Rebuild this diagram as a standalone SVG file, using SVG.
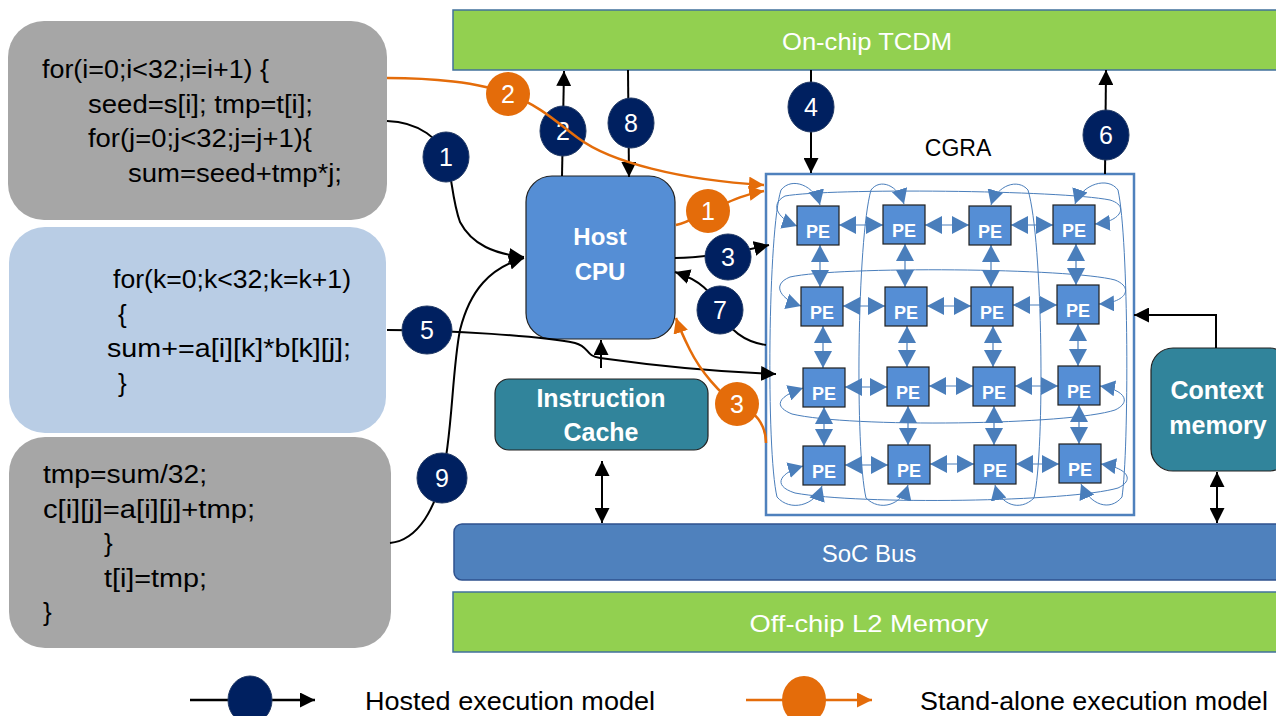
<svg xmlns="http://www.w3.org/2000/svg" width="1276" height="716" viewBox="0 0 1276 716">
<defs>
<style>
.code{font-family:"Liberation Sans",Arial,sans-serif;font-size:26px;fill:#000}
.wt{font-family:"Liberation Sans",Arial,sans-serif;font-size:24px;fill:#fff;text-anchor:middle}
.bt{font-family:"Liberation Sans",Arial,sans-serif;font-weight:bold;fill:#fff;text-anchor:middle}
.pe rect{fill:#558ED5;stroke:#1e1e1e;stroke-width:1.2}
.pe text{font-family:"Liberation Sans",Arial,sans-serif;font-weight:bold;font-size:18px;fill:#fff;text-anchor:middle}
.blk{fill:none;stroke:#000;stroke-width:2}
.org{fill:none;stroke:#E46C0A;stroke-width:2.5}
.lnk{fill:none;stroke:#4A7EBB;stroke-width:1.2;marker-start:url(#ap);marker-end:url(#ap)}
.wrap{fill:none;stroke:#4A7EBB;stroke-width:1;marker-start:url(#aw);marker-end:url(#aw)}
.nv{fill:#002060;stroke:#203864;stroke-width:1}
.or{fill:#E46C0A}
.num{font-family:"Liberation Sans",Arial,sans-serif;font-size:25px;fill:#fff;text-anchor:middle}
.leg{font-family:"Liberation Sans",Arial,sans-serif;font-size:26px;fill:#000}
</style>
<marker id="ab" viewBox="0 0 10 10" refX="10" refY="5" markerWidth="15" markerHeight="15" markerUnits="userSpaceOnUse" orient="auto-start-reverse"><path d="M0,0 L10,5 L0,10 z" fill="#000"/></marker>
<marker id="ao" viewBox="0 0 10 10" refX="10" refY="5" markerWidth="15" markerHeight="15" markerUnits="userSpaceOnUse" orient="auto-start-reverse"><path d="M0,0 L10,5 L0,10 z" fill="#E46C0A"/></marker>
<marker id="ap" viewBox="0 0 17 18" refX="17" refY="9" markerWidth="17" markerHeight="18" markerUnits="userSpaceOnUse" orient="auto-start-reverse"><path d="M0,0 L17,9 L0,18 z" fill="#4A7EBB"/></marker>
<marker id="aw" viewBox="0 0 15 16" refX="15" refY="8" markerWidth="15" markerHeight="16" markerUnits="userSpaceOnUse" orient="auto-start-reverse"><path d="M0,0 L15,8 L0,16 z" fill="#4A7EBB"/></marker>
</defs>
<rect width="1276" height="716" fill="#fff"/>

<g id="code-outer-start">
<rect x="8" y="21" width="379" height="199" rx="36" fill="#A6A6A6"/>
<text class="code" x="42" y="78" textLength="227" lengthAdjust="spacingAndGlyphs">for(i=0;i&lt;32;i=i+1) {</text>
<text class="code" x="88" y="113" textLength="225" lengthAdjust="spacingAndGlyphs">seed=s[i]; tmp=t[i];</text>
<text class="code" x="88" y="147" textLength="224" lengthAdjust="spacingAndGlyphs">for(j=0;j&lt;32;j=j+1){</text>
<text class="code" x="128" y="182" textLength="214" lengthAdjust="spacingAndGlyphs">sum=seed+tmp*j;</text>
</g>
<g id="code-inner">
<rect x="9" y="227" width="377" height="206" rx="36" fill="#B9CDE5"/>
<text class="code" x="113" y="288" textLength="238" lengthAdjust="spacingAndGlyphs">for(k=0;k&lt;32;k=k+1)</text>
<text class="code" x="118" y="323">{</text>
<text class="code" x="107" y="357" textLength="244" lengthAdjust="spacingAndGlyphs">sum+=a[i][k]*b[k][j];</text>
<text class="code" x="118" y="392">}</text>
</g>
<g id="code-outer-end">
<rect x="9" y="437" width="382" height="211" rx="36" fill="#A6A6A6"/>
<text class="code" x="43" y="483" textLength="164" lengthAdjust="spacingAndGlyphs">tmp=sum/32;</text>
<text class="code" x="43" y="518" textLength="212" lengthAdjust="spacingAndGlyphs">c[i][j]=a[i][j]+tmp;</text>
<text class="code" x="104" y="552">}</text>
<text class="code" x="104" y="587" textLength="103" lengthAdjust="spacingAndGlyphs">t[i]=tmp;</text>
<text class="code" x="43" y="621">}</text>
</g>

<g id="tcdm">
<rect x="453" y="10" width="830" height="60" fill="#92D050" stroke="#41719C" stroke-width="1.5"/>
<text class="wt" x="867" y="50" textLength="170" lengthAdjust="spacingAndGlyphs">On-chip TCDM</text>
</g>
<g id="soc-bus">
<rect x="454" y="524" width="830" height="56" rx="8" fill="#4F81BD" stroke="#2F528F" stroke-width="1.5"/>
<text class="wt" x="869" y="562">SoC Bus</text>
</g>
<g id="l2-memory">
<rect x="453" y="592" width="830" height="60" fill="#92D050" stroke="#41719C" stroke-width="1.5"/>
<text class="wt" x="869" y="632" textLength="239" lengthAdjust="spacingAndGlyphs">Off-chip L2 Memory</text>
</g>
<g id="host-cpu">
<rect x="526" y="176" width="149" height="163" rx="26" fill="#558ED5" stroke="#222" stroke-width="1.2"/>
<text class="bt" x="600" y="245" font-size="24">Host</text>
<text class="bt" x="600" y="280" font-size="24">CPU</text>
</g>
<g id="instruction-cache">
<rect x="495" y="379" width="213" height="71" rx="14" fill="#31849B" stroke="#222" stroke-width="1.2"/>
<text class="bt" x="601" y="407" font-size="25">Instruction</text>
<text class="bt" x="601" y="441" font-size="25">Cache</text>
</g>
<g id="context-memory">
<rect x="1151" y="348" width="140" height="123" rx="22" fill="#31849B" stroke="#222" stroke-width="1.2"/>
<text class="bt" x="1217" y="399" font-size="25">Context</text>
<text class="bt" x="1218" y="434" font-size="25">memory</text>
</g>

<g id="cgra">
<rect x="766" y="174" width="368" height="341" fill="#fff" stroke="#4F81BD" stroke-width="2.5"/>
<text x="958" y="156" font-family="Liberation Sans, Arial, sans-serif" font-size="23" text-anchor="middle" fill="#000">CGRA</text>
</g>

<g id="pe-links">
<path class="wrap" d="M820,205 C815,186 792,176 781,190 C768,230 766,450 777,497 C790,512 815,506 822,486"/>
<path class="wrap" d="M904,204 C898,185 880,178 871,190 C857,240 855,450 866,498 C880,512 902,505 908,485"/>
<path class="wrap" d="M991,205 C997,185 1018,178 1028,190 C1043,240 1045,450 1034,498 C1020,512 1000,505 995,485"/>
<path class="wrap" d="M1075,204 C1082,184 1108,176 1118,190 C1129,240 1129,450 1122,497 C1110,512 1090,505 1081,484"/>
<path class="wrap" d="M797,226 C780,220 768,205 785,196 C830,188 1060,190 1110,200 C1130,206 1120,222 1095,224"/>
<path class="wrap" d="M801,306 C782,300 770,285 790,277 C840,266 1070,268 1115,280 C1135,288 1125,303 1099,304"/>
<path class="wrap" d="M803,388 C782,395 770,405 792,414 C850,428 1070,425 1115,410 C1132,402 1125,390 1100,386"/>
<path class="wrap" d="M803,466 C782,472 770,485 795,493 C860,505 1070,502 1118,488 C1135,480 1128,468 1101,464"/>
<line class="lnk" x1="839" y1="225" x2="883" y2="225"/>
<line class="lnk" x1="925" y1="225" x2="969" y2="225"/>
<line class="lnk" x1="1011" y1="225" x2="1053" y2="225"/>
<line class="lnk" x1="843" y1="306" x2="885" y2="306"/>
<line class="lnk" x1="927" y1="306" x2="971" y2="306"/>
<line class="lnk" x1="1013" y1="305" x2="1057" y2="305"/>
<line class="lnk" x1="845" y1="387" x2="887" y2="387"/>
<line class="lnk" x1="929" y1="386" x2="973" y2="386"/>
<line class="lnk" x1="1015" y1="386" x2="1058" y2="386"/>
<line class="lnk" x1="845" y1="465" x2="888" y2="465"/>
<line class="lnk" x1="930" y1="464" x2="974" y2="464"/>
<line class="lnk" x1="1016" y1="464" x2="1059" y2="464"/>
<line class="lnk" x1="820" y1="245" x2="820" y2="287"/>
<line class="lnk" x1="823" y1="326" x2="823" y2="368"/>
<line class="lnk" x1="824" y1="407" x2="824" y2="446"/>
<line class="lnk" x1="905" y1="244" x2="905" y2="287"/>
<line class="lnk" x1="907" y1="326" x2="907" y2="367"/>
<line class="lnk" x1="908" y1="406" x2="908" y2="445"/>
<line class="lnk" x1="991" y1="245" x2="991" y2="287"/>
<line class="lnk" x1="993" y1="326" x2="993" y2="367"/>
<line class="lnk" x1="994" y1="406" x2="994" y2="445"/>
<line class="lnk" x1="1076" y1="244" x2="1076" y2="285"/>
<line class="lnk" x1="1078" y1="324" x2="1078" y2="366"/>
<line class="lnk" x1="1079" y1="405" x2="1079" y2="444"/>
</g>

<g id="pe-1-1" class="pe"><rect x="797" y="206" width="42" height="39"/><text x="818" y="238">PE</text></g>
<g id="pe-1-2" class="pe"><rect x="883" y="205" width="42" height="39"/><text x="904" y="237">PE</text></g>
<g id="pe-1-3" class="pe"><rect x="969" y="206" width="42" height="39"/><text x="990" y="238">PE</text></g>
<g id="pe-1-4" class="pe"><rect x="1053" y="205" width="42" height="39"/><text x="1074" y="237">PE</text></g>
<g id="pe-2-1" class="pe"><rect x="801" y="287" width="42" height="39"/><text x="822" y="319">PE</text></g>
<g id="pe-2-2" class="pe"><rect x="885" y="287" width="42" height="39"/><text x="906" y="319">PE</text></g>
<g id="pe-2-3" class="pe"><rect x="971" y="287" width="42" height="39"/><text x="992" y="319">PE</text></g>
<g id="pe-2-4" class="pe"><rect x="1057" y="285" width="42" height="39"/><text x="1078" y="317">PE</text></g>
<g id="pe-3-1" class="pe"><rect x="803" y="368" width="42" height="39"/><text x="824" y="400">PE</text></g>
<g id="pe-3-2" class="pe"><rect x="887" y="367" width="42" height="39"/><text x="908" y="399">PE</text></g>
<g id="pe-3-3" class="pe"><rect x="973" y="367" width="42" height="39"/><text x="994" y="399">PE</text></g>
<g id="pe-3-4" class="pe"><rect x="1058" y="366" width="42" height="39"/><text x="1079" y="398">PE</text></g>
<g id="pe-4-1" class="pe"><rect x="803" y="446" width="42" height="39"/><text x="824" y="478">PE</text></g>
<g id="pe-4-2" class="pe"><rect x="888" y="445" width="42" height="39"/><text x="909" y="477">PE</text></g>
<g id="pe-4-3" class="pe"><rect x="974" y="445" width="42" height="39"/><text x="995" y="477">PE</text></g>
<g id="pe-4-4" class="pe"><rect x="1059" y="444" width="42" height="39"/><text x="1080" y="476">PE</text></g>

<g id="connectors">
<g id="hosted">
<line class="blk" x1="562" y1="176" x2="564" y2="71" marker-end="url(#ab)"/>
<line class="blk" x1="628" y1="70" x2="629" y2="177" marker-end="url(#ab)"/>
<line class="blk" x1="811" y1="70" x2="811" y2="173" marker-end="url(#ab)"/>
<line class="blk" x1="1105" y1="174" x2="1106" y2="70" marker-end="url(#ab)"/>
<line class="blk" x1="601" y1="368" x2="601" y2="340" stroke-width="1.5" marker-end="url(#ab)"/>
<line class="blk" x1="602" y1="461" x2="602" y2="523" stroke-width="1.2" marker-start="url(#ab)" marker-end="url(#ab)"/>
<line class="blk" x1="1217" y1="472" x2="1217" y2="523" stroke-width="1.2" marker-start="url(#ab)" marker-end="url(#ab)"/>
<path class="blk" d="M1216,348 V315 H1134" marker-end="url(#ab)"/>
<path class="blk" d="M387,121 C420,122 440,140 446,157 C452,175 452,200 460,222 C472,245 495,254 524,257" marker-end="url(#ab)"/>
<path class="blk" d="M390,543 C420,540 435,505 442,478 C452,440 452,370 460,330 C470,290 490,268 524,258" marker-end="url(#ab)"/>
<path class="blk" d="M675,258 C700,258 740,252 769,245" marker-end="url(#ab)"/>
<path class="blk" d="M766,345 C745,342 728,330 720,310 C712,292 700,280 675,272" marker-end="url(#ab)"/>
<path class="blk" d="M387,330 C450,330 540,336 575,343 C590,347 585,356 600,358 C650,365 720,372 776,374" marker-end="url(#ab)"/>
<ellipse class="nv" cx="446" cy="157" rx="23" ry="25"/><text class="num" x="446" y="166">1</text>
<ellipse class="nv" cx="563" cy="131" rx="23" ry="25"/><text class="num" x="563" y="140">2</text>
<ellipse class="nv" cx="631" cy="123" rx="23" ry="25"/><text class="num" x="631" y="132">8</text>
<ellipse class="nv" cx="811" cy="107" rx="23" ry="25"/><text class="num" x="811" y="116">4</text>
<ellipse class="nv" cx="1106" cy="135" rx="23" ry="25"/><text class="num" x="1106" y="144">6</text>
<ellipse class="nv" cx="728" cy="257" rx="23" ry="23"/><text class="num" x="728" y="266">3</text>
<ellipse class="nv" cx="720" cy="310" rx="23" ry="24"/><text class="num" x="720" y="319">7</text>
<ellipse class="nv" cx="427" cy="330" rx="25" ry="24"/><text class="num" x="427" y="339">5</text>
<ellipse class="nv" cx="442" cy="478" rx="25" ry="25"/><text class="num" x="442" y="487">9</text>
</g>
<g id="standalone">
<path class="org" d="M387,78 C430,78 480,82 508,94 C540,105 560,125 578,138 C610,162 680,180 764,185" marker-end="url(#ao)"/>
<path class="org" d="M676,225 C690,222 700,214 708,211 C725,204 740,195 764,191" marker-end="url(#ao)"/>
<path class="org" d="M766,443 C766,425 755,410 737,404 C720,395 700,370 690,350 C685,340 680,330 676,318" marker-end="url(#ao)"/>
<ellipse class="or" cx="508" cy="94" rx="22" ry="22"/><text class="num" x="508" y="103">2</text>
<ellipse class="or" cx="708" cy="211" rx="22" ry="22"/><text class="num" x="708" y="220">1</text>
<ellipse class="or" cx="737" cy="404" rx="22" ry="22"/><text class="num" x="737" y="413">3</text>
</g>
</g>

<g id="legend">
<line x1="190" y1="700" x2="315" y2="700" stroke="#000" stroke-width="2.5" marker-end="url(#ab)"/>
<ellipse class="nv" cx="250" cy="700" rx="22" ry="24"/>
<text class="leg" x="365" y="710" textLength="290" lengthAdjust="spacingAndGlyphs">Hosted execution model</text>
<line x1="746" y1="700" x2="872" y2="700" stroke="#E46C0A" stroke-width="2.5" marker-end="url(#ao)"/>
<ellipse class="or" cx="804" cy="700" rx="22" ry="24"/>
<text class="leg" x="920" y="710" textLength="348" lengthAdjust="spacingAndGlyphs">Stand-alone execution model</text>
</g>
</svg>
